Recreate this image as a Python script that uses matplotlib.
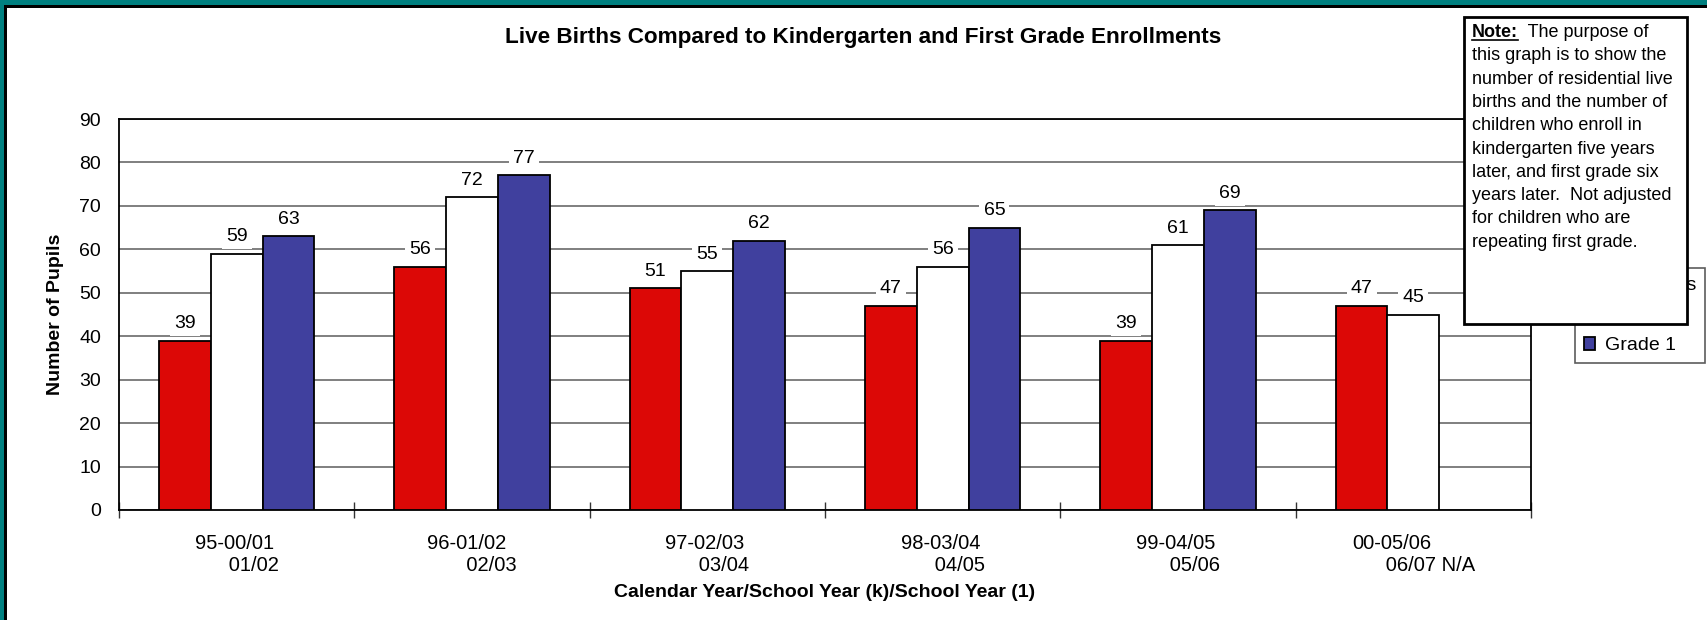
import numpy as np
import matplotlib
matplotlib.use("Agg")
import matplotlib.pyplot as plt
from matplotlib.patches import Rectangle

plt.rcParams['font.family'] = ['Liberation Sans', 'DejaVu Sans']

# data
categories = ["95-00/01\n      01/02", "96-01/02\n       02/03", "97-02/03\n      03/04",
              "98-03/04\n      04/05", "99-04/05\n      05/06", "00-05/06\n      06/07 N/A"]
births = [39, 56, 51, 47, 39, 47]
kinder = [59, 72, 55, 56, 61, 45]
grade1 = [63, 77, 62, 65, 69, np.nan]
series_names = ["Live Births", "Kindergarten", "Grade 1"]
note_lines = ["this graph is to show the", "number of residential live",
              "births and the number of", "children who enroll in",
              "kindergarten five years", "later, and first grade six",
              "years later.  Not adjusted", "for children who are",
              "repeating first grade."]

RED = '#DC0806'
BLUE = '#40409E'
TEAL = '#008080'
W, H = 1707, 620


def fx(x):
    return x / W


def fy(y):
    return 1 - y / H


fig = plt.figure(figsize=(W / 100, H / 100), dpi=100)
ax = fig.add_axes([fx(119), fy(510), fx(1531) - fx(119), fy(119) - fy(510)])

x = np.arange(len(categories))
w = 0.22
g1 = np.array(grade1)
ok = ~np.isnan(g1)
b1 = ax.bar(x - w, births, w, color=RED, edgecolor='black', linewidth=1.3, zorder=3)
b2 = ax.bar(x, kinder, w, color='white', edgecolor='black', linewidth=1.3, zorder=3)
b3 = ax.bar(x[ok] + w, g1[ok], w, color=BLUE, edgecolor='black', linewidth=1.3, zorder=3)

for bars in (b1, b2, b3):
    ax.bar_label(bars, padding=6, fontsize=14, zorder=4,
                 bbox=dict(facecolor='white', edgecolor='none', pad=3))

ax.set_ylim(0, 90)
ax.set_xlim(-0.5, len(categories) - 0.5)
ax.set_yticks(np.arange(0, 91, 10))
ax.tick_params(axis='y', length=0, pad=13, labelsize=14)
ax.yaxis.grid(True, color='#6a6a6a', linewidth=1.2)
ax.set_axisbelow(True)

ax.set_xticks(np.arange(-0.5, len(categories), 1))
ax.set_xticklabels([])
ax.tick_params(axis='x', which='major', direction='inout', length=11, width=1, color='#333333')
ax.set_xticks(x, minor=True)
ax.set_xticklabels(categories, minor=True)
ax.tick_params(axis='x', which='minor', length=0, pad=17, labelsize=14.5)
for t in ax.get_xticklabels(minor=True):
    t.set_multialignment('left')

for s in ax.spines.values():
    s.set_color('black')
    s.set_linewidth(1.3)

ax.set_xlabel("Calendar Year/School Year (k)/School Year (1)", fontsize=14, fontweight='bold')
ax.xaxis.set_label_coords(0.5, -0.19)
ax.set_ylabel("Number of Pupils", fontsize=14, fontweight='bold')
ax.yaxis.set_label_coords(-0.039, 0.5)

fig.text(fx(863), fy(37), "Live Births Compared to Kindergarten and First Grade Enrollments",
         ha='center', va='center', fontsize=16.2, fontweight='bold')

leg = ax.legend([b1, b2, b3], series_names, loc='lower left',
                bbox_to_anchor=(fx(1575), fy(363)), bbox_transform=fig.transFigure,
                borderaxespad=0, fontsize=14, frameon=True, fancybox=False,
                handlelength=0.6, handleheight=0.6, handletextpad=0.5,
                labelspacing=0.7, borderpad=0.45)
leg.get_frame().set_edgecolor('#333333')
leg.get_frame().set_linewidth(1.2)
# middle entry sits behind the note box; keep it narrow so it stays hidden
leg.get_texts()[1].set_fontsize(10)

# note box drawn over the legend
fig.patches.append(Rectangle((fx(1464), fy(324)), fx(1687) - fx(1464), fy(17) - fy(324),
                             transform=fig.transFigure, facecolor='white',
                             edgecolor='black', linewidth=2, zorder=5))
fig.canvas.draw()
nt = fig.text(fx(1472), fy(37), "Note:", fontsize=13, fontweight='bold',
              va='baseline', zorder=6)
bb = nt.get_window_extent(fig.canvas.get_renderer())
fig.text(bb.x1 / W, fy(37), "  The purpose of", fontsize=13, va='baseline', zorder=6)
fig.add_artist(plt.Line2D([bb.x0 / W, bb.x1 / W], [fy(39.5), fy(39.5)],
                          transform=fig.transFigure, color='black', linewidth=1.2, zorder=6))
for i, line in enumerate(note_lines):
    fig.text(fx(1472), fy(37 + 23.3 * (i + 1)), line, fontsize=13, va='baseline', zorder=6)

# teal frame on left and top
fig.patches.append(Rectangle((0, 0), fx(4), 1, transform=fig.transFigure,
                             facecolor=TEAL, edgecolor='none', zorder=7))
fig.patches.append(Rectangle((0, fy(5)), 1, 1 - fy(5), transform=fig.transFigure,
                             facecolor=TEAL, edgecolor='none', zorder=7))
fig.patches.append(Rectangle((fx(4), 0), fx(3), fy(5), transform=fig.transFigure,
                             facecolor='black', edgecolor='none', zorder=7))
fig.patches.append(Rectangle((fx(4), fy(8)), 1, fy(5) - fy(8), transform=fig.transFigure,
                             facecolor='black', edgecolor='none', zorder=7))

fig.savefig("out.png", dpi=100, facecolor='white')
